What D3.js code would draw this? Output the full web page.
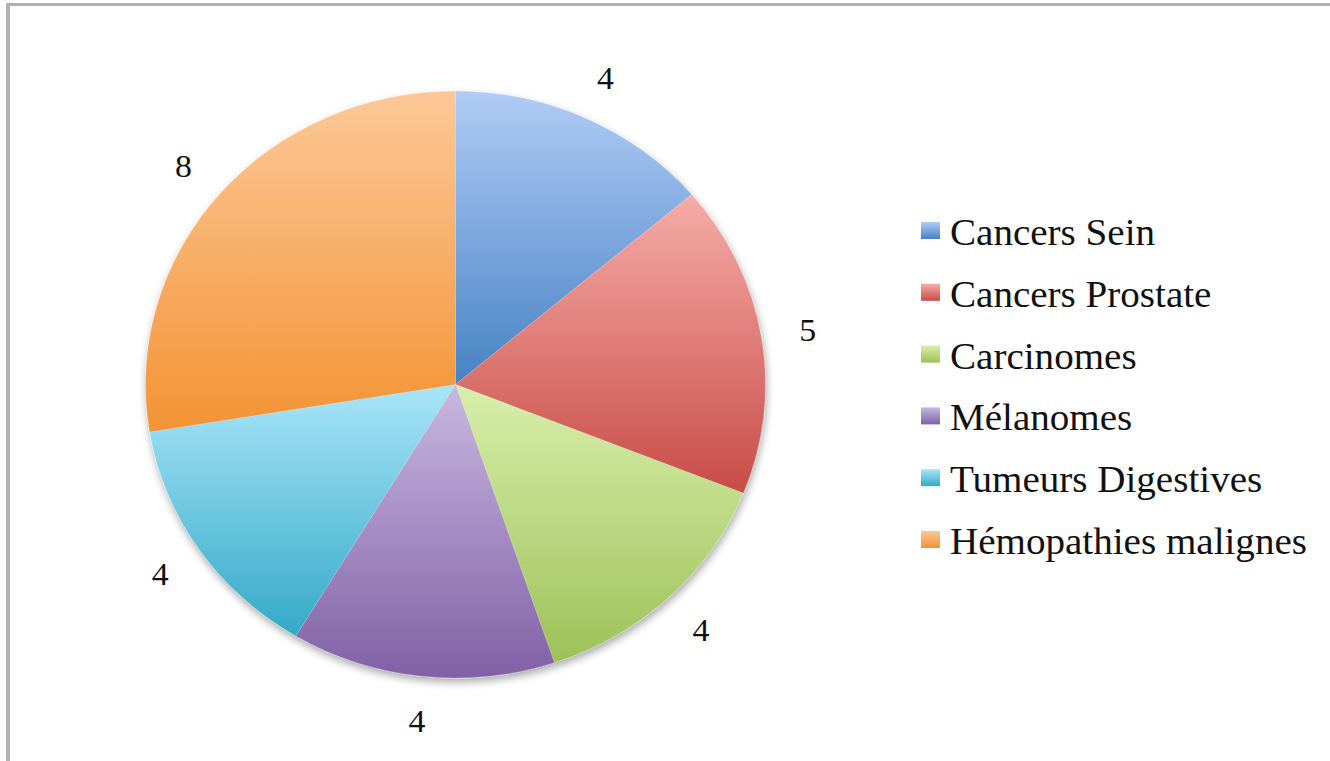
<!DOCTYPE html>
<html>
<head>
<meta charset="utf-8">
<script src="https://cdn.jsdelivr.net/npm/d3@7"></script>
<style>
  html, body { margin: 0; padding: 0; background: #fff; }
  svg { display: block; }
</style>
</head>
<body>
<svg id="chart" width="1330" height="761"></svg>
<script>
// Cases by cancer type
const categories = ["Cancers Sein", "Cancers Prostate", "Carcinomes", "Mélanomes", "Tumeurs Digestives", "Hémopathies malignes"];
const values = [4, 5, 4, 4, 4, 8];
const lightColors = ["#b0ccf6", "#f6aca8", "#d8efac", "#c8b8e0", "#a9e5f9", "#fcc898"];
const darkColors  = ["#4682c3", "#c84c47", "#9dc157", "#8160a6", "#33a9c7", "#f39333"];

const svg = d3.select("#chart");
const W = 1330, H = 761;

// the whole chart is drawn slightly wider than tall
const xStretch = 1.056;

// frame lines (top and left)
svg.append("rect").attr("x", 6).attr("y", 3).attr("width", W - 6).attr("height", 3).attr("fill", "#b1b1b1");
svg.append("rect").attr("x", 6).attr("y", 3).attr("width", 4).attr("height", H - 3).attr("fill", "#b1b1b1");

const defs = svg.append("defs");

// vertical light-to-dark gradient per series
categories.forEach((c, i) => {
  const g = defs.append("linearGradient")
    .attr("id", "grad" + i)
    .attr("x1", 0).attr("y1", 0).attr("x2", 0).attr("y2", 1);
  g.append("stop").attr("offset", "0%").attr("stop-color", lightColors[i]);
  g.append("stop").attr("offset", "100%").attr("stop-color", darkColors[i]);
});

// soft drop shadow under the pie
const f = defs.append("filter").attr("id", "shadow")
  .attr("x", "-10%").attr("y", "-10%").attr("width", "120%").attr("height", "120%");
f.append("feGaussianBlur").attr("in", "SourceAlpha").attr("stdDeviation", 4).attr("result", "b");
f.append("feOffset").attr("in", "b").attr("dx", 1).attr("dy", 4).attr("result", "o");
f.append("feComponentTransfer").attr("in", "o").attr("result", "s")
  .append("feFuncA").attr("type", "linear").attr("slope", 0.35);
const m = f.append("feMerge");
m.append("feMergeNode").attr("in", "s");
m.append("feMergeNode").attr("in", "SourceGraphic");

const cx = 455.5, cy = 384.5, radius = 293.5;

const data = categories.map((c, i) => ({ name: c, value: values[i], i }));
const pie = d3.pie().sort(null).value(d => d.value).startAngle(0).endAngle(2 * Math.PI);
const arcs = pie(data);
const arc = d3.arc().innerRadius(0).outerRadius(radius);

const pieG = svg.append("g")
  .attr("transform", `translate(${cx},${cy}) scale(${xStretch},1)`)
  .attr("filter", "url(#shadow)");

pieG.selectAll("path.slice")
  .data(arcs)
  .join("path")
  .attr("class", "slice")
  .attr("d", arc)
  .attr("fill", d => `url(#grad${d.data.i})`)
  .attr("stroke", "rgba(255,255,255,0.25)")
  .attr("stroke-width", 0.6);

// value labels outside the slices
const labelArc = d3.arc().innerRadius(338).outerRadius(338);
svg.append("g").selectAll("text.val")
  .data(arcs)
  .join("text")
  .attr("class", "val")
  .attr("transform", d => {
    const [x, y] = labelArc.centroid(d);
    return `translate(${cx + x * xStretch},${cy + y}) scale(${xStretch},1)`;
  })
  .attr("dy", "0.35em")
  .attr("text-anchor", "middle")
  .attr("font-family", "Liberation Serif, serif")
  .attr("font-size", 32)
  .attr("fill", "#111")
  .text(d => d.data.value);

// legend
const legendY = d3.scalePoint().domain(categories).range([245, 554]);
const leg = svg.append("g").selectAll("g.item")
  .data(data)
  .join("g")
  .attr("class", "item")
  .attr("transform", d => `translate(921,${legendY(d.name)})`);

leg.append("rect")
  .attr("x", 0).attr("y", -23)
  .attr("width", 19).attr("height", 17)
  .attr("fill", d => `url(#grad${d.i})`);

leg.append("text")
  .attr("transform", `translate(29,0) scale(${xStretch},1)`)
  .attr("font-family", "Liberation Serif, serif")
  .attr("font-size", 37)
  .attr("fill", "#111")
  .text(d => d.name);
</script>
</body>
</html>
